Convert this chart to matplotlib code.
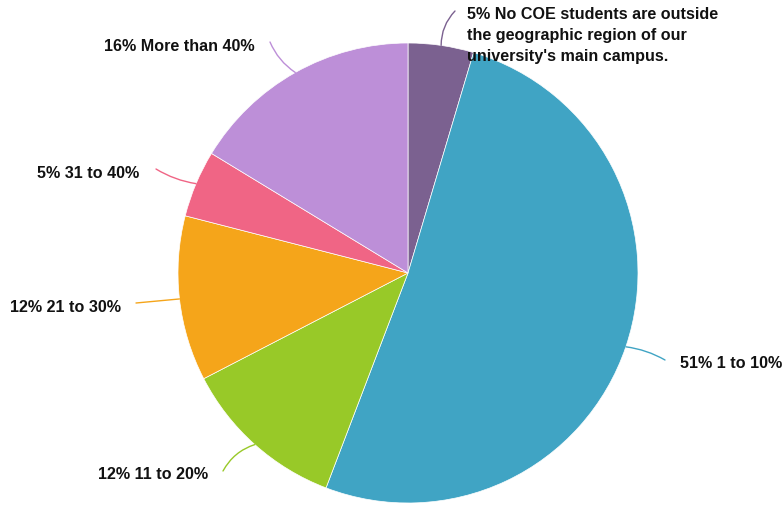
import numpy as np
import matplotlib
matplotlib.use("Agg")
import matplotlib.pyplot as plt

# Data
categories = ["No COE students are outside\nthe geographic region of our\nuniversity's main campus.",
              "1 to 10%", "11 to 20%", "21 to 30%", "31 to 40%", "More than 40%"]
values = [4.6, 51.2, 11.6, 11.6, 4.7, 16.3]
pct_labels = ["5%", "51%", "12%", "12%", "5%", "16%"]
colors = ["#7b6190", "#40a4c4", "#98c928", "#f5a51a", "#f06585", "#bd8fd8"]

W, H = 784, 506
fig = plt.figure(figsize=(W / 100, H / 100), dpi=100)
ax = fig.add_axes([0, 0, 1, 1])
ax.set_xlim(0, W)
ax.set_ylim(0, H)
ax.set_axis_off()

def P(x, y):
    return (x, H - y)

cx, cy = 408, 274
R = 230
wedges, _ = ax.pie(values, colors=colors, startangle=90, counterclock=False,
                   center=P(cx, cy), radius=R,
                   wedgeprops=dict(edgecolor="white", linewidth=0.5))
ax.set_xlim(0, W)
ax.set_ylim(0, H)
ax.set_aspect("equal")

# label layout: (line end x,y in px), (text x,y px), ha, va, rad
layout = [
    ((455, 12), (467, 7), "left", "top", 0.2),
    ((665, 361), (680, 363), "left", "center", 0.1),
    ((223, 472), (208, 475), "right", "center", -0.2),
    ((136, 304), (121, 307), "right", "center", 0.0),
    ((156, 170), (139, 174), "right", "center", 0.1),
    ((270, 43), (255, 46), "right", "center", 0.15),
]

cum = 0.0
total = sum(values)
for i, (w, v) in enumerate(zip(wedges, values)):
    mid = (cum + v / 2) / total * 360.0
    cum += v
    ang = np.deg2rad(90 - mid)
    ax_pt = (cx + R * np.cos(ang), H - (cy - R * np.sin(ang)))
    end, tpos, ha, va, rad = layout[i]
    ax.annotate("", xy=ax_pt, xytext=P(*end),
                arrowprops=dict(arrowstyle="-", color=colors[i], lw=1.0,
                                shrinkA=0, shrinkB=0,
                                connectionstyle=f"arc3,rad={rad}"))
    ax.text(*P(*tpos), f"{pct_labels[i]} {categories[i]}", ha=ha, va=va,
            fontsize=11.6, fontweight="bold", family="Liberation Sans",
            color="#111111", linespacing=1.5)

fig.savefig("out.png", dpi=100)
